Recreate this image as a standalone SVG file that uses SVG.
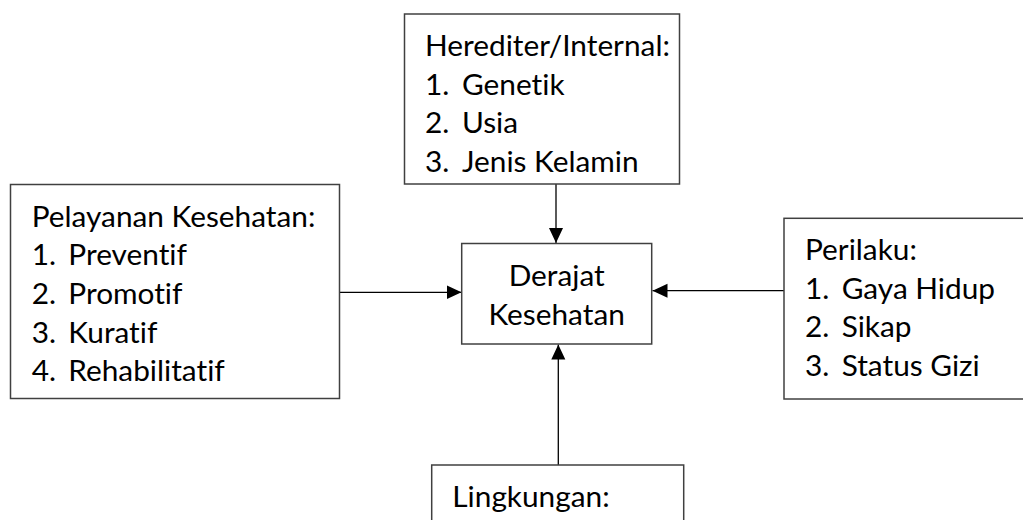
<svg xmlns="http://www.w3.org/2000/svg" width="1023" height="520" viewBox="0 0 1023 520">
<style>
.box{fill:#fff;stroke:#404040;stroke-width:1.5}
.t{font-family:Lato,"Liberation Sans",sans-serif;font-size:29.8px;fill:#000;font-variant-ligatures:none;font-feature-settings:"liga" 0,"clig" 0}
.c{stroke:#000;stroke-width:1.3;fill:none}
</style>
<defs>
<marker id="ah" markerUnits="userSpaceOnUse" markerWidth="16" markerHeight="15" refX="15" refY="7" orient="auto">
<path d="M0,0 L15,7 L0,14 z" fill="#000"/>
</marker>
</defs>
<rect width="1023" height="520" fill="#fff"/>
<g id="connectors">
<line class="c" x1="556" y1="184" x2="556" y2="243" marker-end="url(#ah)"/>
<line class="c" x1="339.5" y1="292.3" x2="461.5" y2="292.3" marker-end="url(#ah)"/>
<line class="c" x1="784" y1="290.7" x2="652.5" y2="290.7" marker-end="url(#ah)"/>
<line class="c" x1="558.3" y1="465" x2="558.3" y2="344.5" marker-end="url(#ah)"/>
</g>
<g id="herediter">
<rect class="box" x="404.5" y="14" width="275" height="170"/>
<text class="t" x="425" y="56">Herediter/Internal:</text>
<text class="t" x="425" y="94.7">1.</text><text class="t" x="462" y="94.7">Genetik</text>
<text class="t" x="425" y="133.4">2.</text><text class="t" x="462" y="133.4">Usia</text>
<text class="t" x="425" y="172.1">3.</text><text class="t" x="462" y="172.1">Jenis Kelamin</text>
</g>
<g id="pelayanan">
<rect class="box" x="10.5" y="184.5" width="329" height="214"/>
<text class="t" x="31.7" y="226.5">Pelayanan Kesehatan:</text>
<text class="t" x="31.7" y="265.2">1.</text><text class="t" x="68.3" y="265.2">Preventif</text>
<text class="t" x="31.7" y="303.9">2.</text><text class="t" x="68.3" y="303.9">Promotif</text>
<text class="t" x="31.7" y="342.6">3.</text><text class="t" x="68.3" y="342.6">Kuratif</text>
<text class="t" x="31.7" y="381.3">4.</text><text class="t" x="68.3" y="381.3">Rehabilitatif</text>
</g>
<g id="derajat">
<rect class="box" x="461.7" y="243.5" width="190" height="100.5"/>
<text class="t" x="556.7" y="286" text-anchor="middle">Derajat</text>
<text class="t" x="556.7" y="325" text-anchor="middle">Kesehatan</text>
</g>
<g id="perilaku">
<rect class="box" x="784" y="218.3" width="260" height="180.7"/>
<text class="t" x="805" y="260">Perilaku:</text>
<text class="t" x="805" y="298.7">1.</text><text class="t" x="841.7" y="298.7">Gaya Hidup</text>
<text class="t" x="805" y="337.4">2.</text><text class="t" x="841.7" y="337.4">Sikap</text>
<text class="t" x="805" y="376.1">3.</text><text class="t" x="841.7" y="376.1">Status Gizi</text>
</g>
<g id="lingkungan">
<rect class="box" x="431.7" y="465" width="252" height="80"/>
<text class="t" x="452.3" y="507">Lingkungan:</text>
</g>
</svg>
